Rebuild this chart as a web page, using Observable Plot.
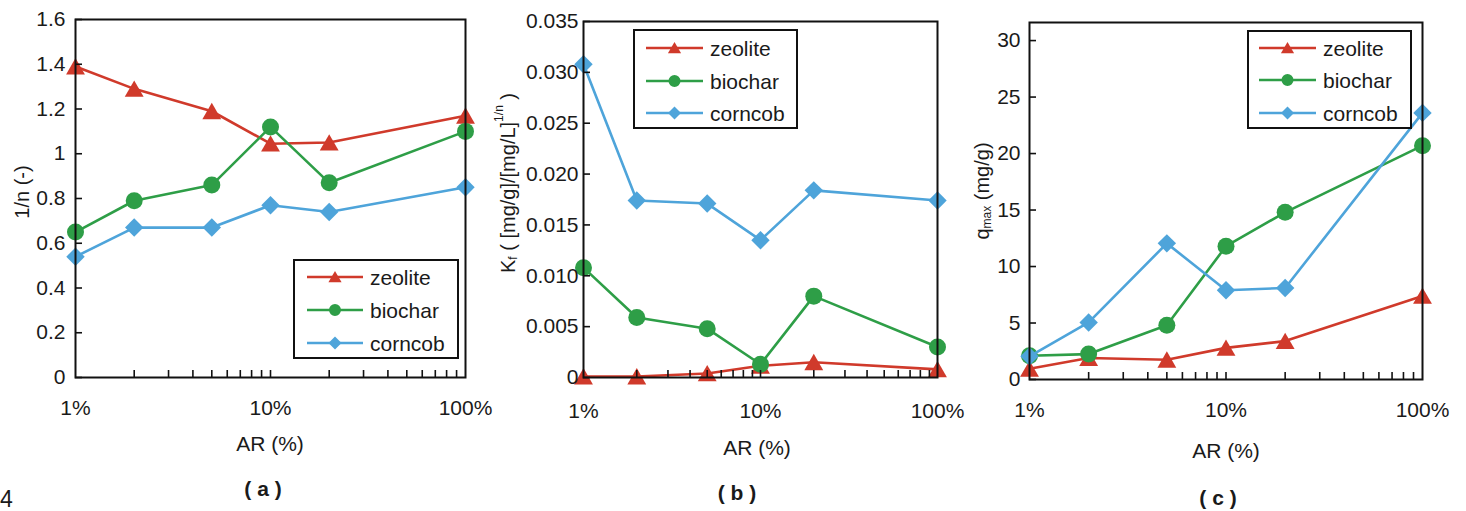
<!DOCTYPE html>
<html><head><meta charset="utf-8">
<script src="https://cdn.jsdelivr.net/npm/d3@7"></script>
<script src="https://cdn.jsdelivr.net/npm/@observablehq/plot@0.6"></script>
<style>
body{margin:0;background:#fff;}
#root{position:relative;width:1466px;height:511px;overflow:hidden;font-family:"Liberation Sans",Arial,sans-serif;background:#fff;}
#root svg{position:absolute;top:0;}
</style></head><body><div id="root"></div>
<script>
// ---- data ----
const AR = [1, 2, 5, 10, 20, 100];           // AR (%)
const seriesNames = ["zeolite", "biochar", "corncob"];
const colors = ["#d03a2b", "#2e9e47", "#4ea4da"];
const symbols = ["triangle", "circle", "diamond2"];

// (a) 1/n (-)
const nZeolite = [1.39, 1.29, 1.19, 1.045, 1.05, 1.17];
const nBiochar = [0.65, 0.79, 0.86, 1.12, 0.87, 1.10];
const nCorncob = [0.54, 0.67, 0.67, 0.77, 0.74, 0.85];
// (b) Kf
const kZeolite = [0.0001, 0.0001, 0.0004, 0.00115, 0.0015, 0.0008];
const kBiochar = [0.0108, 0.0059, 0.0048, 0.0013, 0.0080, 0.0030];
const kCorncob = [0.0308, 0.0174, 0.0171, 0.0135, 0.0184, 0.0174];
// (c) qmax (mg/g)
const qZeolite = [0.95, 1.9, 1.75, 2.8, 3.4, 7.4];
const qBiochar = [2.1, 2.25, 4.8, 11.8, 14.8, 20.7];
const qCorncob = [2.05, 5.05, 12.05, 7.9, 8.1, 23.6];

const xMajor = [1, 10, 100];
const xMinor = [2, 3, 4, 5, 6, 7, 8, 9, 10, 20, 30, 40, 50, 60, 70, 80, 90];
const yTicksA = [0, 0.2, 0.4, 0.6, 0.8, 1, 1.2, 1.4, 1.6];
const yTicksB = [0, 0.005, 0.010, 0.015, 0.020, 0.025, 0.030, 0.035];
const yTicksC = [0, 5, 10, 15, 20, 25, 30];

const root = document.getElementById("root");
const FONT = "Liberation Sans, Arial, sans-serif";
const radii = [7, 8.5, 8.3];

function panel({left, width, ml, mr, mt, mb, ydomain, yticks, yfmt, ypad, xpad, values}) {
  const marks = [];
  seriesNames.forEach((s, i) => {
    const data = AR.map((x, j) => ({x, y: values[i][j], s}));
    marks.push(Plot.line(data, {x: "x", y: "y", stroke: colors[i], strokeWidth: 2.6}));
    marks.push(Plot.dot(data, {x: "x", y: "y", symbol: symbols[i], r: radii[i], fill: colors[i], stroke: "none", dy: i === 0 ? 2.5 : 0}));
  });
  marks.push(Plot.axisX(xMajor, {label: null, tickSize: 0, tickPadding: xpad, tickFormat: d => d + "%", fontSize: 21, fill: "#1a1a1a"}));
  marks.push(Plot.axisX(xMinor, {label: null, tickSize: -7, tickFormat: () => "", strokeWidth: 1.6, stroke: "#111"}));
  marks.push(Plot.axisY(yticks, {label: null, tickSize: 0, tickPadding: ypad, tickFormat: yfmt, fontSize: 21, fill: "#1a1a1a"}));
  marks.push(Plot.axisY(yticks, {label: null, tickSize: -7, tickFormat: () => "", strokeWidth: 1.6, stroke: "#111"}));
  marks.push(Plot.frame({stroke: "#111", strokeWidth: 2}));
  const p = Plot.plot({
    width, height: 400,
    marginLeft: ml, marginRight: mr, marginTop: mt, marginBottom: mb,
    x: {type: "log", domain: [1, 100], label: null},
    y: {domain: ydomain, label: null},
    style: {fontFamily: FONT, fontSize: "21px", background: "transparent", overflow: "visible"},
    marks
  });
  p.style.left = left + "px";
  root.appendChild(p);
}

panel({left: 0, width: 490, ml: 75, mr: 25, mt: 19, mb: 23, ydomain: [0, 1.6], yticks: yTicksA,
  yfmt: d => String(+d.toFixed(1)), ypad: 10, xpad: 23, values: [nZeolite, nBiochar, nCorncob]});
panel({left: 490, width: 490, ml: 93, mr: 43, mt: 21, mb: 23, ydomain: [0, 0.035], yticks: yTicksB,
  yfmt: d => d === 0 ? "0" : d.toFixed(3), ypad: 5, xpad: 26, values: [kZeolite, kBiochar, kCorncob]});
panel({left: 980, width: 486, ml: 49, mr: 44, mt: 22, mb: 21, ydomain: [0, 31.6], yticks: yTicksC,
  yfmt: d => String(d), ypad: 9, xpad: 23, values: [qZeolite, qBiochar, qCorncob]});

// ---- overlay: labels, legends, captions ----
const svg = d3.select(root).append("svg").attr("width", 1466).attr("height", 511)
  .style("left", "0px").attr("font-family", FONT).attr("fill", "#1a1a1a");

// x-axis titles
[[270, 443], [757, 447], [1226, 450]].forEach(([x, y]) => {
  svg.append("text").attr("x", x).attr("y", y).attr("text-anchor", "middle")
    .attr("dominant-baseline", "central").attr("font-size", 21).text("AR (%)");
});
// captions
[["( a )", 263, 488], ["( b )", 737, 492], ["( c )", 1218, 497]].forEach(([t, x, y]) => {
  svg.append("text").attr("x", x).attr("y", y).attr("text-anchor", "middle")
    .attr("dominant-baseline", "central").attr("font-size", 21).attr("font-weight", "bold").text(t);
});
svg.append("text").attr("x", 0).attr("y", 499).attr("dominant-baseline", "central").attr("font-size", 23).text("4");

// y-axis titles
function ylabel(x, y, build) {
  const t = svg.append("text").attr("transform", `translate(${x},${y}) rotate(-90)`)
    .attr("text-anchor", "middle").attr("dominant-baseline", "central").attr("font-size", 20);
  build(t);
}
ylabel(22, 192, t => t.text("1/n (-)"));
ylabel(508, 183, t => {
  t.append("tspan").text("K");
  t.append("tspan").attr("font-size", 12).attr("dy", 5).text("f");
  t.append("tspan").attr("dy", -5).text(" ( [mg/g]/[mg/L]");
  t.append("tspan").attr("font-size", 12).attr("dy", -9).text("1/n");
  t.append("tspan").attr("dy", 9).text(" )");
});
ylabel(982, 191, t => {
  t.append("tspan").text("q");
  t.append("tspan").attr("font-size", 12).attr("dy", 5).text("max");
  t.append("tspan").attr("dy", -5).text(" (mg/g)");
});

// legends
const legSizes = [75, 113, 108];
const legTypes = [d3.symbolTriangle, d3.symbolCircle, d3.symbolDiamond2];
function legend(x0, y0, x1, y1, rows, lx0, lx1, tx) {
  svg.append("rect").attr("x", x0).attr("y", y0).attr("width", x1 - x0).attr("height", y1 - y0)
    .attr("fill", "#fff").attr("stroke", "#111").attr("stroke-width", 2);
  seriesNames.forEach((s, i) => {
    const y = rows[i];
    svg.append("line").attr("x1", lx0).attr("x2", lx1).attr("y1", y).attr("y2", y)
      .attr("stroke", colors[i]).attr("stroke-width", 2.6);
    svg.append("path").attr("d", d3.symbol(legTypes[i], legSizes[i])())
      .attr("transform", `translate(${(lx0 + lx1) / 2},${y + (i === 0 ? 1.5 : 0)})`).attr("fill", colors[i]);
    svg.append("text").attr("x", tx).attr("y", y).attr("dominant-baseline", "central")
      .attr("font-size", 21).text(s);
  });
}
legend(294, 260, 458, 358, [277, 310, 343], 307, 363, 370);
legend(634, 30, 797, 128, [48, 81, 113], 646, 703, 710);
legend(1248, 31, 1411, 128, [48, 80, 113], 1259, 1316, 1323);
</script></body></html>
